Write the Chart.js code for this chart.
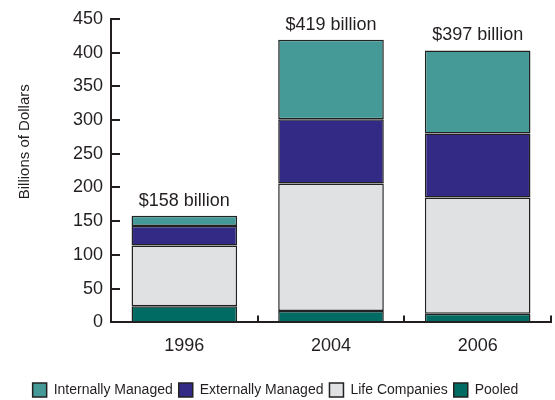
<!DOCTYPE html>
<html>
<head>
<meta charset="utf-8">
<script src="https://cdn.jsdelivr.net/npm/chart.js@4/dist/chart.umd.min.js"></script>
<style>
html,body{margin:0;padding:0;background:#fff;}
#wrap{width:555px;height:400px;position:relative;}
</style>
</head>
<body>
<div id="wrap"><canvas id="c" width="555" height="400"></canvas></div>
<script>
const categories = ['1996', '2004', '2006'];
const pooled = [24, 17, 13];
const lifeCompanies = [90, 189, 172];
const externallyManaged = [29, 95, 95];
const internallyManaged = [15, 118, 123];
const totalLabels = ['$158 billion', '$419 billion', '$397 billion'];
const yTicks = [0, 50, 100, 150, 200, 250, 300, 350, 400, 450];
const axisTitle = 'Billions of Dollars';

const FONT = "'Liberation Sans', Arial, sans-serif";
const INK = '#231f20';

const innerTicks = {
  id: 'innerTicks',
  afterDraw(chart) {
    const {ctx, scales: {x, y}} = chart;
    ctx.save();
    ctx.strokeStyle = INK;
    ctx.lineWidth = 2;
    ctx.beginPath();
    y.ticks.forEach((t, i) => {
      const py = Math.round(y.getPixelForTick(i));
      ctx.moveTo(y.right, py);
      ctx.lineTo(y.right + 9, py);
    });
    const n = categories.length;
    const step = (x.right - x.left) / n;
    for (let i = 1; i <= n; i++) {
      const px = Math.round(x.getPixelForValue(i - 1) + step / 2);
      ctx.moveTo(px, x.top);
      ctx.lineTo(px, x.top - 7);
    }
    ctx.stroke();
    ctx.fillStyle = INK;
    ctx.font = '15px ' + FONT;
    ctx.textAlign = 'center';
    ctx.textBaseline = 'middle';
    ctx.translate(25, chart.chartArea.top + chart.chartArea.height * 0.405);
    ctx.rotate(-Math.PI / 2);
    ctx.fillText(axisTitle, 0, 0);
    ctx.restore();
  },
  afterDatasetsDraw(chart) {
    const {ctx} = chart;
    const last = chart.data.datasets.length - 1;
    const meta = chart.getDatasetMeta(last);
    ctx.save();
    ctx.fillStyle = INK;
    ctx.font = '18px ' + FONT;
    ctx.textAlign = 'center';
    ctx.textBaseline = 'bottom';
    meta.data.forEach((bar, i) => {
      ctx.fillText(totalLabels[i], bar.x, bar.y - 6);
    });
    ctx.restore();
  }
};

new Chart(document.getElementById('c'), {
  type: 'bar',
  data: {
    labels: categories,
    datasets: [
      {label: 'Pooled', data: pooled, backgroundColor: '#006b63'},
      {label: 'Life Companies', data: lifeCompanies, backgroundColor: '#e0e1e3'},
      {label: 'Externally Managed', data: externallyManaged, backgroundColor: '#332a85'},
      {label: 'Internally Managed', data: internallyManaged, backgroundColor: '#459a98'}
    ].map(d => Object.assign(d, {borderColor: '#222222', borderWidth: 1.5, borderSkipped: false}))
  },
  options: {
    responsive: false,
    animation: false,
    devicePixelRatio: 1,
    layout: {padding: {left: 0, right: 4, top: 6, bottom: -7}},
    datasets: {bar: {barPercentage: 0.72, categoryPercentage: 1.0}},
    plugins: {
      tooltip: {enabled: false},
      legend: {
        position: 'bottom',
        reverse: true,
        labels: {
          boxWidth: 14, boxHeight: 14, padding: 6,
          color: INK,
          font: {family: FONT, size: 14}
        }
      }
    },
    scales: {
      x: {
        stacked: true,
        afterFit(scale) { scale.height += 7; },
        grid: {display: false, drawTicks: false},
        border: {display: true, color: INK, width: 2},
        ticks: {color: INK, padding: 13, font: {family: FONT, size: 18}}
      },
      y: {
        stacked: true,
        min: 0, max: 450,
        afterBuildTicks(scale) { scale.ticks = yTicks.map(v => ({value: v})); },
        afterFit(scale) { scale.width = 111; },
        grid: {display: false, drawTicks: false},
        border: {display: true, color: INK, width: 2},
        ticks: {color: INK, padding: 8, font: {family: FONT, size: 18}}
      }
    }
  },
  plugins: [innerTicks]
});
</script>
</body>
</html>
